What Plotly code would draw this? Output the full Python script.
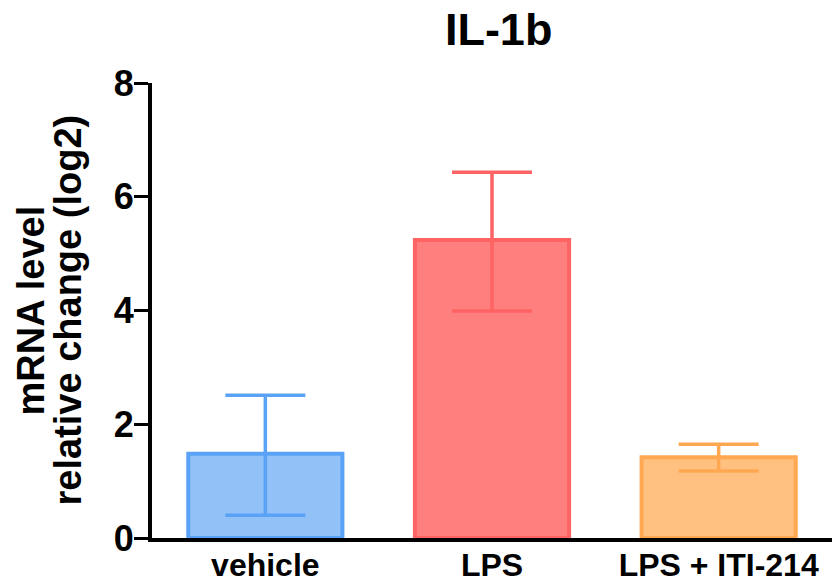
import plotly.graph_objects as go

categories = ["vehicle", "LPS", "LPS + ITI-214"]
means = [1.48, 5.24, 1.42]
err_plus = [1.03, 1.19, 0.23]
err_minus = [1.08, 1.25, 0.24]
fill_colors = ["#92C1F8", "#FF7F7F", "#FFC080"]
line_colors = ["#5AA2F5", "#FF6363", "#FFA851"]
title_text = "IL-1b"
ytitle_lines = ["mRNA level", "relative change (log2)"]
ytick_vals = [0, 2, 4, 6, 8]

FONT = "Liberation Sans, Arial, sans-serif"

fig = go.Figure()
for i, c in enumerate(categories):
    fig.add_trace(go.Bar(
        x=[c], y=[means[i]],
        width=0.68,
        marker=dict(color=fill_colors[i], line=dict(color=line_colors[i], width=4)),
        error_y=dict(type="data", symmetric=False, array=[err_plus[i]], arrayminus=[err_minus[i]],
                     color=line_colors[i], thickness=3.5, width=40),
        showlegend=False,
    ))

fig.update_layout(
    width=832, height=587,
    margin=dict(l=152, r=0, t=83, b=49),
    plot_bgcolor="white", paper_bgcolor="white",
    title=dict(text="<b>" + title_text + "</b>", x=(152 + 832) / 2 / 832 + 0.008, xref="container",
               xanchor="center", y=1 - 29 / 587, yanchor="middle",
               font=dict(family=FONT, size=45, color="black")),
    font=dict(family=FONT, color="black"),
)
fig.update_xaxes(
    range=[-0.5, 2.5], showline=True, linecolor="black", linewidth=4,
    ticks="", showgrid=False, zeroline=False,
    tickfont=dict(family=FONT, size=32, color="black"),
    tickprefix="<b>", ticksuffix="</b>",
    ticklabelstandoff=-4, automargin=False,
)
fig.update_yaxes(
    range=[0, 8], tickvals=ytick_vals, ticktext=["<b>%d</b>" % v for v in ytick_vals],
    showline=True, linecolor="black", linewidth=4,
    ticks="outside", ticklen=14, tickwidth=3, tickcolor="black",
    showgrid=False, zeroline=False,
    tickfont=dict(family=FONT, size=36, color="black"),
    ticklabelstandoff=-7, automargin=False,
)
for txt, xs in zip(ytitle_lines, [-122, -85]):
    fig.add_annotation(
        text="<b>" + txt + "</b>", xref="paper", yref="paper", x=0, y=0.5,
        xanchor="center", yanchor="middle", xshift=xs, textangle=-90, showarrow=False,
        font=dict(family=FONT, size=38, color="black"),
    )

fig.write_html("out.html", config={"displayModeBar": False},
               post_script="document.body.style.margin='0';")
